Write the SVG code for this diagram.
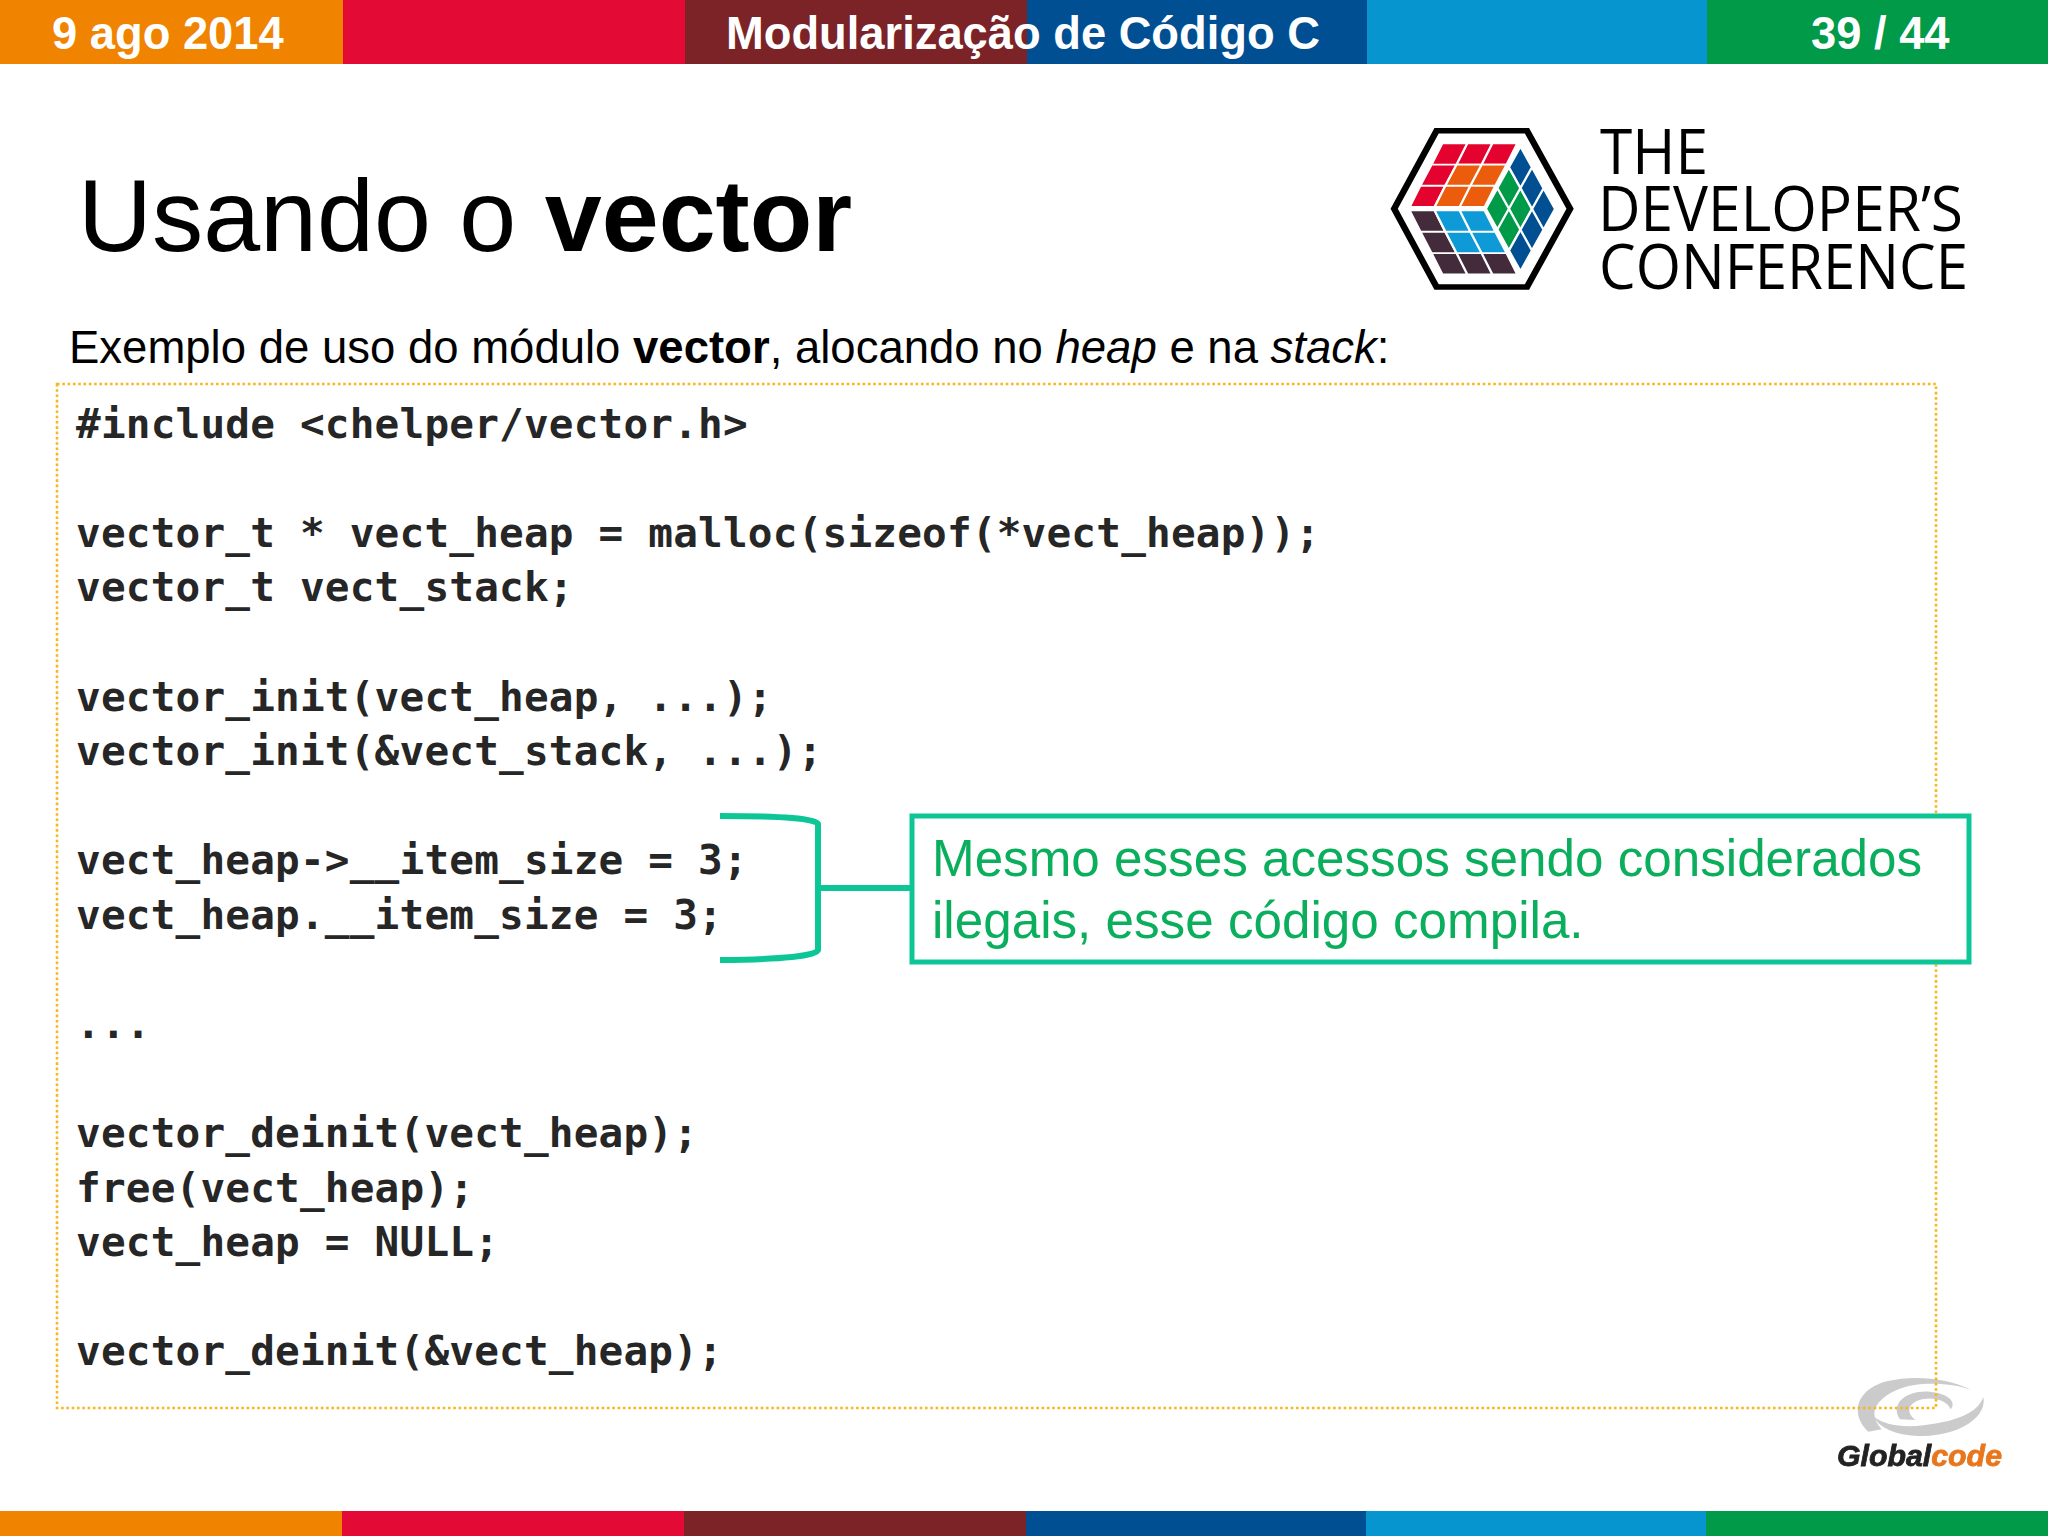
<svg xmlns="http://www.w3.org/2000/svg" width="2048" height="1536" viewBox="0 0 2048 1536">
<style>
.h{font:bold 45.3px "Liberation Sans",Arial,sans-serif;fill:#fff}
.c{font:bold 41px "DejaVu Sans Mono",monospace;fill:#262626;letter-spacing:.2px}
.b{font:51.2px "Liberation Sans",Arial,sans-serif;fill:#0aae5c}
.l{font:45.5px "Liberation Sans",Arial,sans-serif;fill:#000}
.t{font:62px "Open Sans",sans-serif;fill:#000}
.cell{stroke:#fff;stroke-width:6;stroke-linejoin:miter}
.sw{fill:#cbcbcb}
</style>
<defs><filter id="soft" x="-10%" y="-10%" width="120%" height="120%"><feGaussianBlur stdDeviation="1"/></filter><filter id="softer" x="-10%" y="-20%" width="120%" height="140%"><feGaussianBlur stdDeviation=".6"/></filter></defs>
<rect width="2048" height="1536" fill="#fff"/>
<g id="bars">
<rect x="0" y="0" width="343" height="64" fill="#f08300"/><rect x="343" y="0" width="342" height="64" fill="#e30a35"/><rect x="685" y="0" width="342" height="64" fill="#7b2327"/><rect x="1027" y="0" width="340" height="64" fill="#004f93"/><rect x="1367" y="0" width="340" height="64" fill="#0795d0"/><rect x="1707" y="0" width="341" height="64" fill="#009a48"/>
<rect x="0" y="1511" width="342" height="25" fill="#f08300"/><rect x="342" y="1511" width="342" height="25" fill="#e30a35"/><rect x="684" y="1511" width="342" height="25" fill="#7b2327"/><rect x="1026" y="1511" width="340" height="25" fill="#004f93"/><rect x="1366" y="1511" width="340" height="25" fill="#0795d0"/><rect x="1706" y="1511" width="342" height="25" fill="#009a48"/>
</g>
<g id="header">
<text class="h" x="52" y="49">9 ago 2014</text>
<text class="h" x="726" y="49">Modularização de Código C</text>
<text class="h" x="1811" y="49">39 / 44</text>
</g>
<text x="78" y="251" font-family="Liberation Sans" font-size="102.4" fill="#000">Usando o <tspan font-weight="bold">vector</tspan></text>
<g id="tdc-logo">
<g transform="translate(1373 111) scale(.385 .329)">
<path d="M165 60H400L512 297L400 535H165L55 297Z" fill="#fff" stroke="#000" stroke-width="17"/>
<path class="cell" fill="#e4032e" d="M180 98H245L217 163H152ZM245 98H310L282 163H217ZM310 98H375L347 163H282ZM152 163H217L188 227H123ZM123 227H188L160 292H95Z"/>
<path class="cell" fill="#eb5c0d" d="M217 163H282L253 227H188ZM282 163H347L318 227H253ZM188 227H253L225 292H160ZM253 227H318L290 292H225Z"/>
<path class="cell" fill="#432b3c" d="M95 302H160L188 367H123ZM123 367H188L217 432H152ZM152 432H217L245 497H180ZM217 432H282L310 497H245ZM282 432H347L375 497H310Z"/>
<path class="cell" fill="#0e9ad6" d="M160 302H225L253 367H188ZM225 302H290L318 367H253ZM188 367H253L282 432H217ZM253 367H318L347 432H282Z"/>
<path class="cell" fill="#009a48" d="M293 297L323 234L353 297L323 360ZM323 234L353 171L383 234L353 297ZM323 360L353 297L383 361L353 424ZM353 297L383 234L413 298L383 361Z"/>
<path class="cell" fill="#004f93" d="M353 171L383 108L413 171L383 234ZM383 234L413 171L443 235L413 298ZM413 298L443 235L473 298L443 361ZM383 361L413 298L443 361L413 424ZM353 424L383 361L413 424L383 487Z"/>
</g>
<text class="t" x="1600" y="174" textLength="108" lengthAdjust="spacingAndGlyphs">THE</text>
<text class="t" x="1598" y="231" textLength="365" lengthAdjust="spacingAndGlyphs">DEVELOPER’S</text>
<text class="t" x="1599" y="289" textLength="369" lengthAdjust="spacingAndGlyphs">CONFERENCE</text>
</g>
<text class="l" x="69" y="363">Exemplo de uso do módulo <tspan font-weight="bold">vector</tspan>, alocando no <tspan font-style="italic">heap</tspan> e na <tspan font-style="italic">stack</tspan>:</text>
<g id="globalcode-logo">
<g transform="translate(1800 1340) scale(.33333)" filter="url(#soft)">
<path class="sw" d="M205 275C150 225 165 150 260 124C340 105 440 112 515 150C460 128 350 122 290 150C220 182 205 225 245 268Z"/>
<path class="sw" d="M550 172C562 230 480 287 370 288C300 289 240 268 222 230C250 252 300 264 370 256C460 246 532 222 550 172Z"/>
<path class="sw" d="M300 238C268 190 320 150 390 155C442 160 472 185 452 208C440 178 390 168 352 182C320 196 322 222 347 240Z"/>
</g>
<text x="1837" y="1466" font-family="Liberation Sans" font-weight="bold" font-style="italic" font-size="30" textLength="165" lengthAdjust="spacingAndGlyphs" filter="url(#softer)"><tspan fill="#222" stroke="#222" stroke-width=".8">Global</tspan><tspan fill="#e8761e" stroke="#e8761e" stroke-width=".8">code</tspan></text>
</g>
<rect id="code-frame" x="57" y="384" width="1879" height="1024" fill="none" stroke="#f5b81e" stroke-width="2.6" stroke-dasharray="2.6 2.7"/>
<g id="code">
<text class="c" x="76" y="438">#include &lt;chelper/vector.h&gt;</text>
<text class="c" x="76" y="547">vector_t * vect_heap = malloc(sizeof(*vect_heap));</text>
<text class="c" x="76" y="601">vector_t vect_stack;</text>
<text class="c" x="76" y="711">vector_init(vect_heap, ...);</text>
<text class="c" x="76" y="765">vector_init(&amp;vect_stack, ...);</text>
<text class="c" x="76" y="874">vect_heap-&gt;__item_size = 3;</text>
<text class="c" x="76" y="929">vect_heap.__item_size = 3;</text>
<text class="c" x="76" y="1038">...</text>
<text class="c" x="76" y="1147">vector_deinit(vect_heap);</text>
<text class="c" x="76" y="1202">free(vect_heap);</text>
<text class="c" x="76" y="1256">vect_heap = NULL;</text>
<text class="c" x="76" y="1365">vector_deinit(&amp;vect_heap);</text>
</g>
<g id="callout">
<path d="M720 816Q815 816 818 824V950Q815 959 720 960M818 888H912" fill="none" stroke="#0cc698" stroke-width="6"/>
<rect x="912" y="816" width="1057" height="146" fill="#fff" stroke="#0cc698" stroke-width="5"/>
<text class="b" x="932" y="876">Mesmo esses acessos sendo considerados</text>
<text class="b" x="932" y="938">ilegais, esse código compila.</text>
</g>
</svg>
